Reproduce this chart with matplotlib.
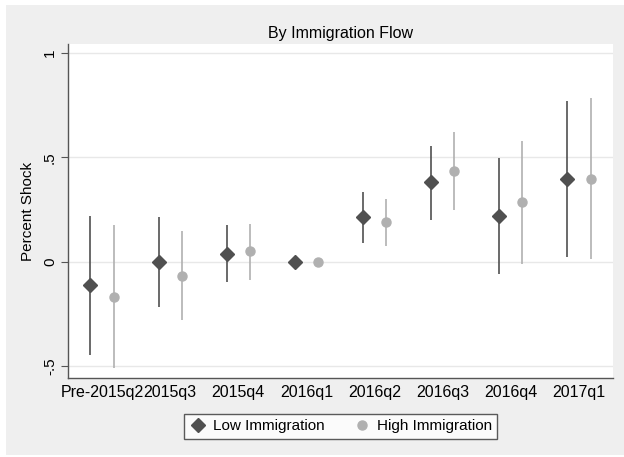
import matplotlib.pyplot as plt
from matplotlib.patches import Rectangle

plt.rcParams['font.family'] = ['Liberation Sans', 'DejaVu Sans']

periods = ['Pre-2015q2', '2015q3', '2015q4', '2016q1', '2016q2', '2016q3', '2016q4', '2017q1']

low_est = [-0.113, 0.0, 0.037, 0.0, 0.212, 0.38, 0.22, 0.397]
low_lo = [-0.445, -0.218, -0.099, 0.0, 0.089, 0.20, -0.057, 0.025]
low_hi = [0.22, 0.214, 0.174, 0.0, 0.333, 0.556, 0.496, 0.77]

high_est = [-0.17, -0.07, 0.05, 0.0, 0.188, 0.435, 0.284, 0.397]
high_lo = [-0.51, -0.28, -0.086, 0.0, 0.077, 0.249, -0.011, 0.013]
high_hi = [0.174, 0.145, 0.182, 0.0, 0.30, 0.62, 0.577, 0.786]

low_col = '#505050'
high_col = '#b0b0b0'

fig = plt.figure(figsize=(6.24, 4.57), dpi=100)
fig.patch.set_facecolor('white')
fig.patches.append(Rectangle((6 / 624, 2 / 457), 1, 450 / 457, transform=fig.transFigure,
                             facecolor='#efefef', edgecolor='none', zorder=-10))

ax = fig.add_axes([68 / 624, 79 / 457, 545 / 624, 334 / 457])
ax.set_facecolor('white')

x = list(range(1, len(periods) + 1))
off = 0.17
xl = [i - off for i in x]
xh = [i + off for i in x]

ax.vlines(xl, low_lo, low_hi, color=low_col, lw=1.2, zorder=2)
ax.vlines(xh, high_lo, high_hi, color=high_col, lw=1.2, zorder=2)
ax.plot(xl, low_est, 'D', color=low_col, ms=7, ls='none', label='Low Immigration', zorder=3)
ax.plot(xh, high_est, 'o', color=high_col, ms=6.5, ls='none', label='High Immigration', zorder=3)

ax.set_xlim(0.5, 8.5)
ax.set_ylim(-0.557, 1.043)
ax.set_xticks(x)
ax.set_xticklabels(periods, fontsize=11.5)
ax.tick_params(axis='x', length=0, pad=5)
ax.set_yticks([-0.5, 0, 0.5, 1])
ax.set_yticklabels(['-.5', '0', '.5', '1'], fontsize=11, rotation=90, va='center')
ax.tick_params(axis='y', length=5, color='#555555', pad=3)
ax.grid(axis='y', color='#e8e8e8', lw=1)
ax.set_axisbelow(True)

for s in ['top', 'right']:
    ax.spines[s].set_visible(False)
for s in ['left', 'bottom']:
    ax.spines[s].set_color('#555555')
    ax.spines[s].set_linewidth(1)

ax.set_title('By Immigration Flow', fontsize=11.5, pad=4)
ax.set_ylabel('Percent Shock', fontsize=11, labelpad=6)

leg = ax.legend(loc='upper center', bbox_to_anchor=(0.5, -0.085), ncol=2, frameon=True,
                fancybox=False, fontsize=11, handletextpad=0.4, columnspacing=1.8,
                borderpad=0.35, handlelength=1.2)
leg.get_frame().set_edgecolor('#333333')
leg.get_frame().set_linewidth(1)

fig.savefig('out.png', dpi=100)
